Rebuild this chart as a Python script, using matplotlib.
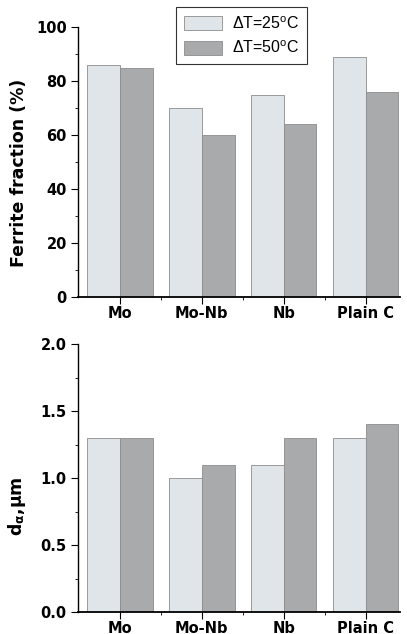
import numpy as np
import matplotlib
matplotlib.use("Agg")
import matplotlib.pyplot as plt
from matplotlib.ticker import MultipleLocator, FixedLocator

# ============================================================
# Data
# ============================================================

steels = ["Mo", "Mo-Nb", "Nb", "Plain C"]
ferrite_dt25 = [86, 70, 75, 89]
ferrite_dt50 = [85, 60, 64, 76]
grain_dt25 = [1.3, 1.0, 1.1, 1.3]
grain_dt50 = [1.3, 1.1, 1.3, 1.4]
series_labels = [r"$\Delta$T=25$^{\rm o}$C", r"$\Delta$T=50$^{\rm o}$C"]

LIGHT = "#dfe5e8"
DARK = "#a8aaab"
EDGE = "#8c8c8c"

plt.rcParams["font.family"] = ["DejaVu Sans"]
plt.rcParams["mathtext.fontset"] = "custom"
plt.rcParams["mathtext.rm"] = "Liberation Sans"
plt.rcParams["mathtext.it"] = "Liberation Sans:italic"
plt.rcParams["mathtext.bf"] = "DejaVu Sans:bold"

fig = plt.figure(figsize=(4.07, 6.34), dpi=100)
ax_top = fig.add_axes([0.1916, 0.5315, 0.7914, 0.4255])
ax_bot = fig.add_axes([0.1916, 0.0347, 0.7914, 0.4227])

x = np.arange(len(steels))
width = 0.4


def style_axis(ax, ymax, major, minor, fmt):
    ax.set_xlim(-0.51, 3.42)
    ax.set_ylim(0, ymax)
    for side in ("top", "right"):
        ax.spines[side].set_visible(False)
    ax.spines["left"].set_linewidth(1.0)
    ax.spines["bottom"].set_linewidth(1.3)
    ax.yaxis.set_major_locator(MultipleLocator(major))
    ax.yaxis.set_minor_locator(MultipleLocator(minor))
    ax.yaxis.set_major_formatter(plt.FormatStrFormatter(fmt))
    ax.set_xticks(x)
    ax.set_xticklabels(steels, fontweight="bold", fontsize=10.5)
    ax.xaxis.set_minor_locator(FixedLocator(x[:-1] + 0.5))
    ax.tick_params(axis="both", which="major", direction="out", length=5, width=0.8)
    ax.tick_params(axis="both", which="minor", direction="out", length=2.5, width=0.6)
    ax.tick_params(axis="x", pad=1.5)
    ax.tick_params(axis="y", labelsize=10.5, pad=3)
    for lbl in ax.get_yticklabels():
        lbl.set_fontweight("bold")


# Top panel: ferrite fraction
b1 = ax_top.bar(x - width / 2, ferrite_dt25, width, color=LIGHT, edgecolor=EDGE,
                linewidth=0.6, label=series_labels[0])
b2 = ax_top.bar(x + width / 2, ferrite_dt50, width, color=DARK, edgecolor=EDGE,
                linewidth=0.6, label=series_labels[1])
style_axis(ax_top, 100, 20, 10, "%d")
ax_top.set_ylabel("Ferrite fraction (%)", fontweight="bold", fontsize=12.5)
ax_top.yaxis.set_label_coords(-0.155, 0.46)

leg = fig.legend(handles=[b1, b2], loc="upper left",
                 bbox_to_anchor=(176 / 407, 1 - 7 / 634), frameon=True,
                 fancybox=False, prop={"family": "Liberation Sans", "size": 11.5},
                 handlelength=2.4, handleheight=1.0,
                 borderpad=0.5, labelspacing=0.5, handletextpad=0.6,
                 borderaxespad=0)
leg.get_frame().set_edgecolor("black")
leg.get_frame().set_linewidth(0.8)

# Bottom panel: grain size
ax_bot.bar(x - width / 2, grain_dt25, width, color=LIGHT, edgecolor=EDGE, linewidth=0.6)
ax_bot.bar(x + width / 2, grain_dt50, width, color=DARK, edgecolor=EDGE, linewidth=0.6)
style_axis(ax_bot, 2.0, 0.5, 0.25, "%.1f")
ax_bot.set_ylabel(r"d$_{\mathbf{\alpha}}$,$\mathbf{\mu}$m", fontweight="bold", fontsize=12.5)
ax_bot.yaxis.set_label_coords(-0.155, 0.395)

fig.savefig("out.png", dpi=100)
